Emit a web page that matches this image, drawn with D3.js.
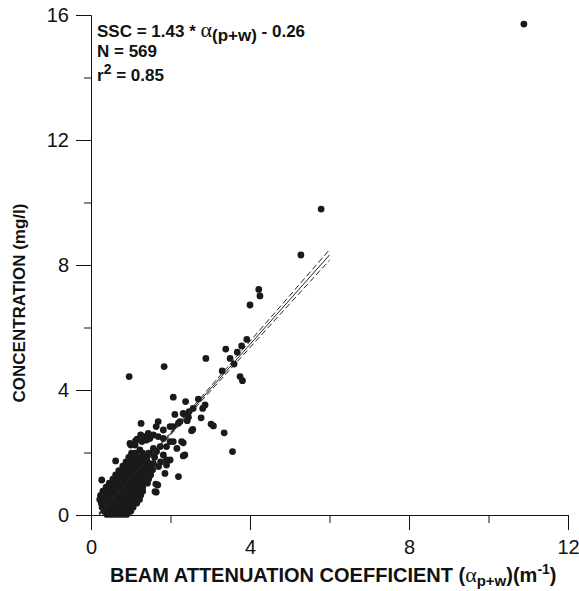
<!DOCTYPE html>
<html><head><meta charset="utf-8">
<script src="https://cdn.jsdelivr.net/npm/d3@7"></script>
<style>body{margin:0;background:#fff}svg{display:block}</style>
</head><body>
<svg id="c" width="579" height="591"></svg>
<script>
// ---- data ----
const xMajorTicks = [0, 4, 8, 12];
const xMinorTicks = [2, 6, 10];
const yMajorTicks = [0, 4, 8, 12, 16];
const yMinorTicks = [2, 6, 10, 14];
const slope = 1.43, intercept = -0.26;
const fitX = [0.2, 6.0];
const ciX = [0.2, 1, 2, 3, 4, 5, 6];
const ciHalf = [0.04, 0.02, 0.04, 0.07, 0.10, 0.13, 0.17];
const outliers = [[10.89,15.71],[5.79,9.79],[5.28,8.32],[4.22,7.22],[4.25,7.01],[4.0,6.72],[3.92,5.62],[3.79,5.41],[3.39,5.31],[3.68,5.21],[2.89,5.01],[3.5,5.01],[3.6,4.83],[3.3,4.61],[3.75,4.43],[3.81,4.3],[1.84,4.75],[0.96,4.43]];
const midPoints = [[2.38,3.63],[2.7,3.71],[2.87,3.52],[2.81,3.41],[2.57,3.41],[2.47,3.31],[2.34,3.23],[2.45,3.13],[2.42,3.02],[2.77,3.11],[3.02,2.91],[3.08,2.85],[2.56,2.74],[3.35,2.63],[3.56,2.03],[2.07,3.77],[2.11,3.22],[2.32,3.25],[2.24,2.99],[2.2,2.94],[1.26,2.93],[1.69,2.99],[1.64,2.83],[1.99,2.83],[2.07,2.83],[1.82,2.72],[1.44,2.61],[1.57,2.56],[2.53,2.7],[1.25,2.56],[1.11,2.24],[0.98,2.29],[1.28,2.35],[1.4,2.4],[1.48,2.45],[1.69,2.51],[1.82,2.45],[1.99,2.35],[2.07,2.35],[2.28,2.35],[2.32,2.31],[1.74,2.19],[1.9,2.19],[1.57,2.13],[2.16,2.13],[2.36,1.92],[2.32,1.89],[1.65,2.03],[1.48,1.97],[1.23,2.08],[1.06,1.92],[1.82,1.92],[1.99,1.76],[1.9,1.76],[1.4,1.76],[1.19,1.76],[0.94,1.65],[1.9,1.6],[1.57,1.65],[0.86,1.55],[0.62,1.73],[0.27,1.12],[2.2,1.23],[1.86,1.33],[1.68,0.96],[1.64,0.73],[1.61,0.75],[1.63,0.99],[1.06,0.37],[1.0,2.24],[1.12,2.37],[1.42,2.45],[1.33,2.51],[1.16,2.43],[1.55,1.45],[1.7,1.55],[1.75,1.7],[1.6,1.85],[1.5,1.62]];
const blobRows = [
  [0.02, [0.40,0.50,0.60,0.70,0.80,0.90]],
  [0.12, [0.33,0.43,0.53,0.63,0.73,0.83,0.93,1.0]],
  [0.25, [0.28,0.38,0.48,0.58,0.68,0.78,0.88,0.98,1.06]],
  [0.38, [0.26,0.36,0.46,0.56,0.66,0.76,0.86,0.96,1.08,1.15]],
  [0.50, [0.22,0.32,0.42,0.52,0.62,0.72,0.82,0.92,1.02,1.12,1.22]],
  [0.63, [0.24,0.34,0.44,0.54,0.64,0.74,0.84,0.94,1.04,1.14,1.25]],
  [0.76, [0.30,0.40,0.50,0.60,0.70,0.80,0.90,1.00,1.10,1.20,1.30]],
  [0.89, [0.38,0.48,0.58,0.68,0.78,0.88,0.98,1.08,1.18,1.30]],
  [1.02, [0.46,0.56,0.66,0.76,0.86,0.96,1.06,1.16,1.28,1.42]],
  [1.15, [0.55,0.65,0.75,0.85,0.95,1.05,1.15,1.30,1.45]],
  [1.28, [0.62,0.72,0.82,0.92,1.02,1.12,1.25,1.40,1.50]],
  [1.42, [0.70,0.80,0.90,1.00,1.12,1.22,1.35,1.48]],
  [1.56, [0.80,0.90,1.00,1.10,1.20,1.35,1.45]],
  [1.70, [0.88,0.98,1.08,1.18,1.30,1.42]],
  [1.84, [0.95,1.05,1.15,1.25,1.40]],
  [1.98, [1.02,1.12,1.30,1.45]]
];

// ---- chart ----
const svg = d3.select("#c");
const x = d3.scaleLinear().domain([0, 12]).range([91, 568]);
const y = d3.scaleLinear().domain([0, 16]).range([515, 15]);
const ink = "#111";
const font = "'Liberation Sans', Arial, sans-serif";

// axes
const gx = svg.append("g").attr("transform", `translate(0,${y(0)})`)
  .call(d3.axisBottom(x).tickValues(xMajorTicks).tickSize(15).tickPadding(10).tickFormat(d3.format("d")));
const gxm = svg.append("g").attr("transform", `translate(0,${y(0)})`)
  .call(d3.axisBottom(x).tickValues(xMinorTicks).tickSize(8).tickFormat(""));
const gy = svg.append("g").attr("transform", `translate(${x(0)},0)`)
  .call(d3.axisLeft(y).tickValues(yMajorTicks).tickSize(15).tickPadding(7).tickFormat(d3.format("d")));
const gym = svg.append("g").attr("transform", `translate(${x(0)},0)`)
  .call(d3.axisLeft(y).tickValues(yMinorTicks).tickSize(7).tickFormat(""));
[gx, gxm, gy, gym].forEach(g => {
  g.select(".domain").attr("stroke", ink).attr("stroke-width", 1);
  g.selectAll(".tick line").attr("stroke", ink).attr("stroke-width", 1);
  g.selectAll("text").attr("font-family", font).attr("font-size", 20).attr("fill", ink);
});
gxm.select(".domain").remove();
gym.select(".domain").remove();
gx.selectAll("text").attr("dy", "0.71em");

// points
const allPts = outliers.concat(midPoints);
blobRows.forEach(([yy, xs]) => xs.forEach(xx => allPts.push([xx, yy])));
svg.append("g").selectAll("circle").data(allPts).join("circle")
  .attr("cx", d => x(d[0])).attr("cy", d => y(d[1])).attr("r", 3.4).attr("fill", "#1a1a1a");

// fit line + confidence lines
const fitLine = d3.line().x(d => x(d)).y(d => y(slope * d + intercept));
svg.append("path").attr("d", fitLine(fitX)).attr("fill", "none").attr("stroke", "#222").attr("stroke-width", 1);
[1, -1].forEach(s => {
  const pts = ciX.map((cx, i) => [cx, slope * cx + intercept + s * ciHalf[i]]);
  svg.append("path").attr("d", d3.line().x(d => x(d[0])).y(d => y(d[1]))(pts))
    .attr("fill", "none").attr("stroke", "#222").attr("stroke-width", 1).attr("stroke-dasharray", "6,3");
});

// annotation
const ann = svg.append("g").attr("font-family", font).attr("font-weight", "bold").attr("font-size", 17).attr("fill", ink);
const t1 = ann.append("text").attr("x", 97).attr("y", 37);
t1.append("tspan").text("SSC = 1.43 * ");
t1.append("tspan").attr("font-family", "'Liberation Serif', 'Times New Roman', serif").attr("font-weight", "normal").attr("font-size", 22).text("α");
t1.append("tspan").attr("dy", 4).text("(p+w)");
t1.append("tspan").attr("dy", -4).text(" - 0.26");
ann.append("text").attr("x", 97).attr("y", 57).text("N = 569");
const t3 = ann.append("text").attr("x", 97).attr("y", 81);
t3.append("tspan").text("r");
t3.append("tspan").attr("dy", -7).attr("font-size", 14).text("2");
t3.append("tspan").attr("dy", 7).text(" = 0.85");

// axis titles
const xt = svg.append("text").attr("x", 110).attr("y", 582).attr("font-family", font).attr("font-weight", "bold").attr("font-size", 20).attr("fill", ink);
xt.append("tspan").text("BEAM ATTENUATION COEFFICIENT (");
xt.append("tspan").attr("font-family", "'Liberation Serif', 'Times New Roman', serif").attr("font-weight", "normal").attr("font-size", 22).text("α");
xt.append("tspan").attr("dy", 4).attr("font-size", 15).text("p+w");
xt.append("tspan").attr("dy", -4).text(")(m");
xt.append("tspan").attr("dy", -8).attr("font-size", 14).text("-1");
xt.append("tspan").attr("dy", 8).text(")");

svg.append("text").attr("transform", "translate(25,303) rotate(-90)").attr("text-anchor", "middle")
  .attr("font-family", font).attr("font-weight", "bold").attr("font-size", 17).attr("fill", ink)
  .text("CONCENTRATION (mg/l)");
</script>
</body></html>
